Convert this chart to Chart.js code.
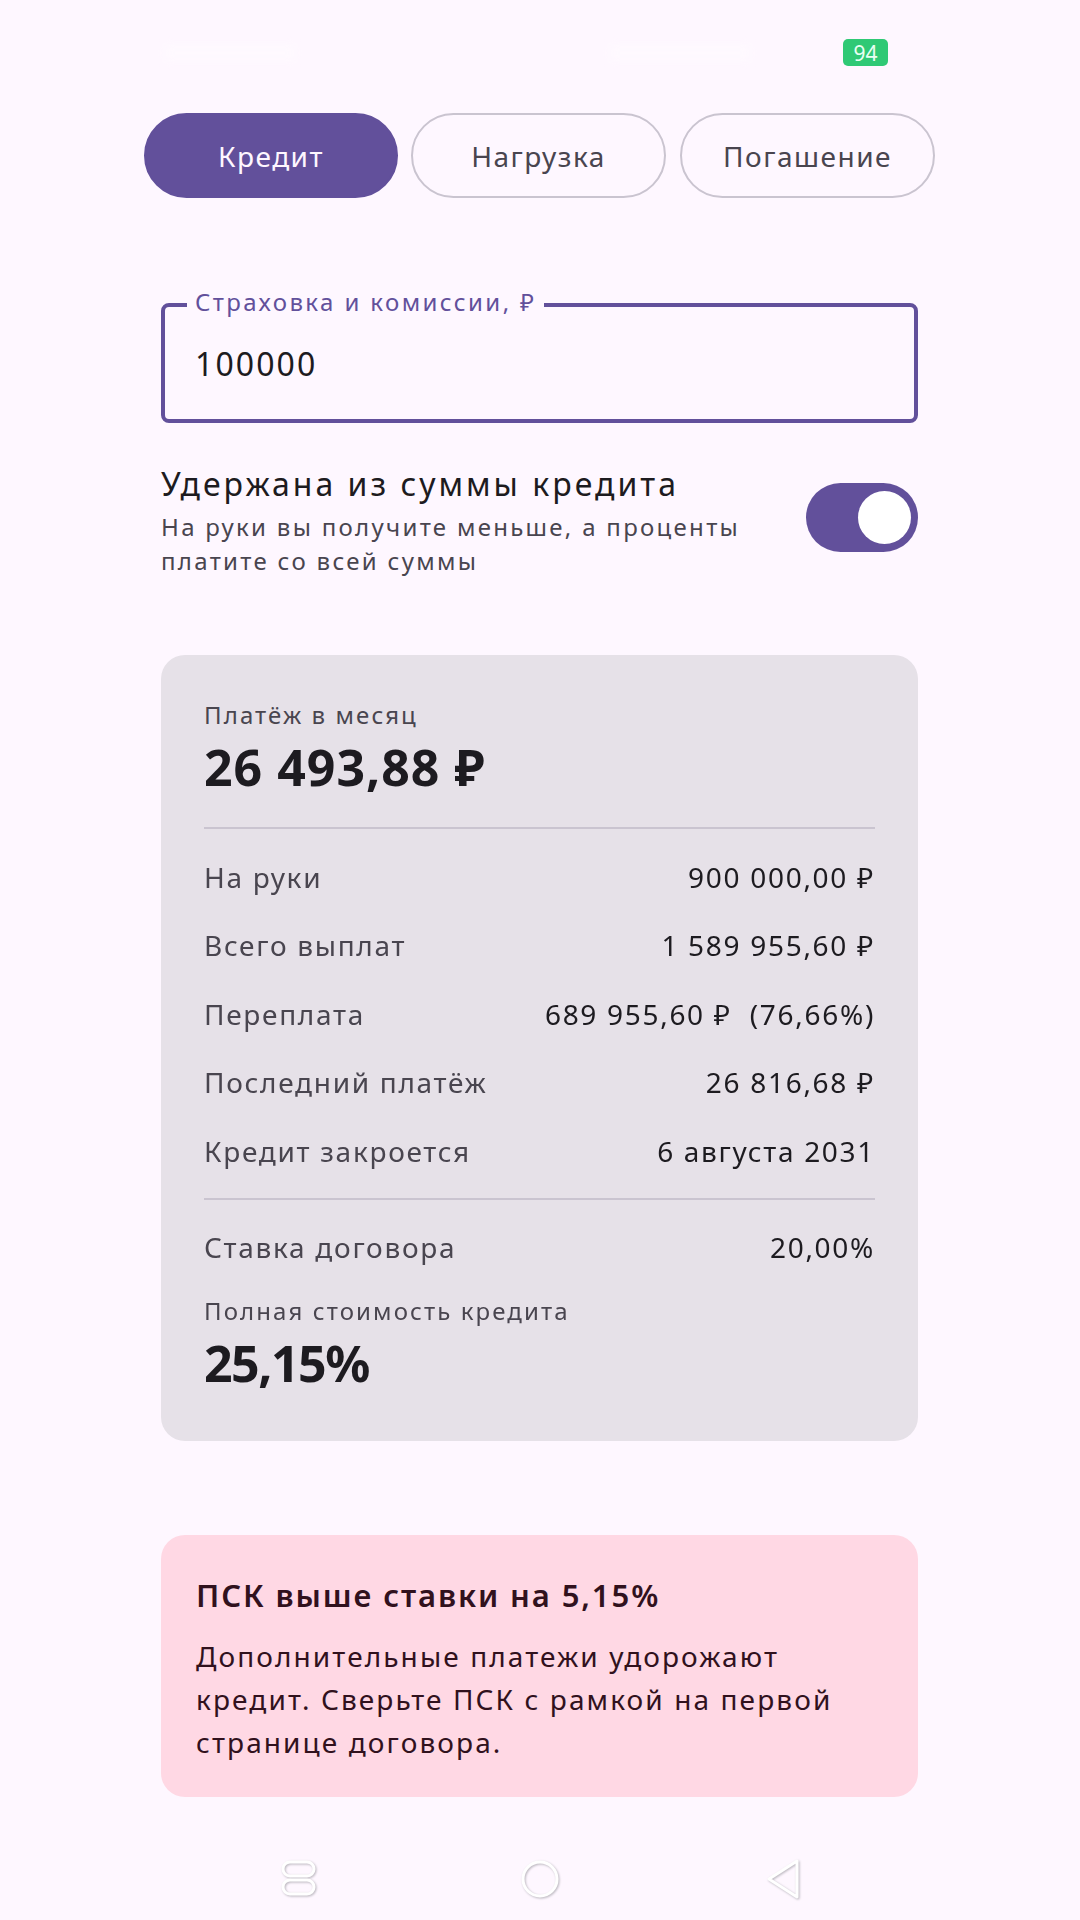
<!DOCTYPE html>
<html lang="ru">
<head>
<meta charset="utf-8">
<title>Кредит</title>
<script src="https://cdn.jsdelivr.net/npm/chart.js@4/dist/chart.umd.min.js"></script>
<style>
  html, body { margin: 0; padding: 0; background: #fef7ff; }
  body { position: relative; width: 1080px; height: 1920px; overflow: hidden; font-family: "Noto Sans", "DejaVu Sans", sans-serif; color: #1d1b20; }
  .box, .t, canvas, svg { position: absolute; }
  .t { white-space: nowrap; line-height: 1; transform: translateY(-50%); }
  .tab { box-sizing: border-box; top: 113px; height: 85px; width: 254px; border-radius: 43px; border: 2px solid #cac4d0; display: flex; align-items: center; justify-content: center; font-size: 28px; letter-spacing: 1.5px; color: #49454f; }
  .tab.on { background: #62509b; border-color: #62509b; color: #fef7ff; }
  .hr { left: 204px; width: 671px; height: 2px; background: #cac4d0; }
  .big { left: 204px; font-size: 50px; font-weight: 700; }
  .small { left: 204px; font-size: 24px; color: #49454f; letter-spacing: 2.1px; }
  .note { left: 196px; font-size: 28px; color: #31111d; letter-spacing: 2.1px; }
  .blur { background: #fffcff; opacity: 0.6; filter: blur(4px); height: 14px; top: 46px; }
</style>
</head>
<body>
<div class="box blur" style="left:165px;width:130px"></div>
<div class="box blur" style="left:610px;width:140px"></div>
<div class="box" style="left:843px;top:39px;width:45px;height:27px;border-radius:5px;background:#2fc975"></div>
<div class="t" style="left:843px;width:45px;top:53px;text-align:center;font-size:21px;color:#e8fff2">94</div>

<div class="box tab on" style="left:144px">Кредит</div>
<div class="box tab" style="left:411px;width:255px">Нагрузка</div>
<div class="box tab" style="left:680px;width:255px">Погашение</div>

<div class="box" style="left:161px;top:303px;width:757px;height:120px;box-sizing:border-box;border:4px solid #62509b;border-radius:8px"></div>
<div class="t" style="left:187px;top:302px;padding:0 8px;background:#fef7ff;font-size:24px;letter-spacing:2.4px;color:#62509b">Страховка и комиссии, ₽</div>
<div class="t" style="left:195px;top:364px;font-size:32px;letter-spacing:2.1px">100000</div>

<div class="t" style="left:161px;top:484px;font-size:32px;letter-spacing:3px">Удержана из суммы кредита</div>
<div class="t" style="left:161px;top:527px;font-size:24px;letter-spacing:2.3px;color:#49454f">На руки вы получите меньше, а проценты</div>
<div class="t" style="left:161px;top:561px;font-size:24px;letter-spacing:2.3px;color:#49454f">платите со всей суммы</div>
<div class="box" style="left:806px;top:483px;width:112px;height:69px;border-radius:35px;background:#62509b"></div>
<div class="box" style="left:858px;top:491px;width:53px;height:53px;border-radius:50%;background:#fff"></div>

<div class="box" style="left:161px;top:655px;width:757px;height:786px;border-radius:24px;background:#e6e1e8"></div>
<div class="t small" style="top:715px">Платёж в месяц</div>
<div class="t big" style="top:767px;letter-spacing:1px">26 493,88 ₽</div>
<div class="box hr" style="top:827px"></div>
<canvas id="rowsChart" style="left:204px;top:829px"></canvas>
<div class="box hr" style="top:1198px"></div>
<canvas id="rateChart" style="left:204px;top:1200px"></canvas>
<div class="t small" style="top:1311px">Полная стоимость кредита</div>
<div class="t big" style="top:1363px;letter-spacing:-1.5px">25,15%</div>

<div class="box" style="left:161px;top:1535px;width:757px;height:262px;border-radius:24px;background:#ffd8e4"></div>
<div class="t" style="left:196px;top:1595px;font-size:31px;font-weight:600;letter-spacing:1.9px;color:#31111d">ПСК выше ставки на 5,15%</div>
<div class="t note" style="top:1656px">Дополнительные платежи удорожают</div>
<div class="t note" style="top:1699px">кредит. Сверьте ПСК с рамкой на первой</div>
<div class="t note" style="top:1742px">странице договора.</div>

<svg width="1080" height="80" style="left:0;top:1840px" fill="none" stroke="#fff" stroke-width="3">
  <g style="filter:drop-shadow(1px 1px 1px #b9b5bd)">
    <rect x="283" y="22" width="31" height="14" rx="7"/>
    <rect x="283" y="40" width="31" height="14" rx="7"/>
    <circle cx="540" cy="39" r="17"/>
    <path d="M797 21 L769 39 L797 57 Z" stroke-linejoin="round"/>
  </g>
</svg>

<script>
const rowLabels = ["На руки", "Всего выплат", "Переплата", "Последний платёж", "Кредит закроется"];
const rowValues = ["900 000,00 ₽", "1 589 955,60 ₽", "689 955,60 ₽  (76,66%)", "26 816,68 ₽", "6 августа 2031"];
const rateLabels = ["Ставка договора"];
const rateValues = ["20,00%"];

const fontFamily = '"Noto Sans", "DejaVu Sans", sans-serif';
const spacing = { id: "spacing", beforeDraw(chart) { chart.ctx.letterSpacing = "1.7px"; } };

function makeRows(id, labels, values, height) {
  const canvas = document.getElementById(id);
  canvas.width = 671;
  canvas.height = height;
  return new Chart(canvas.getContext("2d"), {
    type: "bar",
    data: { labels: labels, datasets: [] },
    plugins: [spacing],
    options: {
      indexAxis: "y",
      responsive: false,
      animation: false,
      devicePixelRatio: 1,
      layout: { padding: 0 },
      plugins: { legend: { display: false }, tooltip: { enabled: false } },
      scales: {
        x: { display: false },
        y: {
          type: "category",
          position: "left",
          labels: labels,
          offset: true,
          afterFit(scale) { scale.width = 300; },
          border: { display: false },
          grid: { display: false, drawTicks: false },
          ticks: { crossAlign: "far", padding: 0, color: "#49454f", autoSkip: false, font: { family: fontFamily, size: 28 } },
        },
        yValues: {
          type: "category",
          position: "right",
          labels: values,
          offset: true,
          afterFit(scale) { scale.width = 371; },
          border: { display: false },
          grid: { display: false, drawTicks: false },
          ticks: { crossAlign: "far", padding: 0, color: "#1d1b20", autoSkip: false, font: { family: fontFamily, size: 28 } },
        },
      },
    },
  });
}

makeRows("rowsChart", rowLabels, rowValues, 376);
makeRows("rateChart", rateLabels, rateValues, 101);
</script>
</body>
</html>
